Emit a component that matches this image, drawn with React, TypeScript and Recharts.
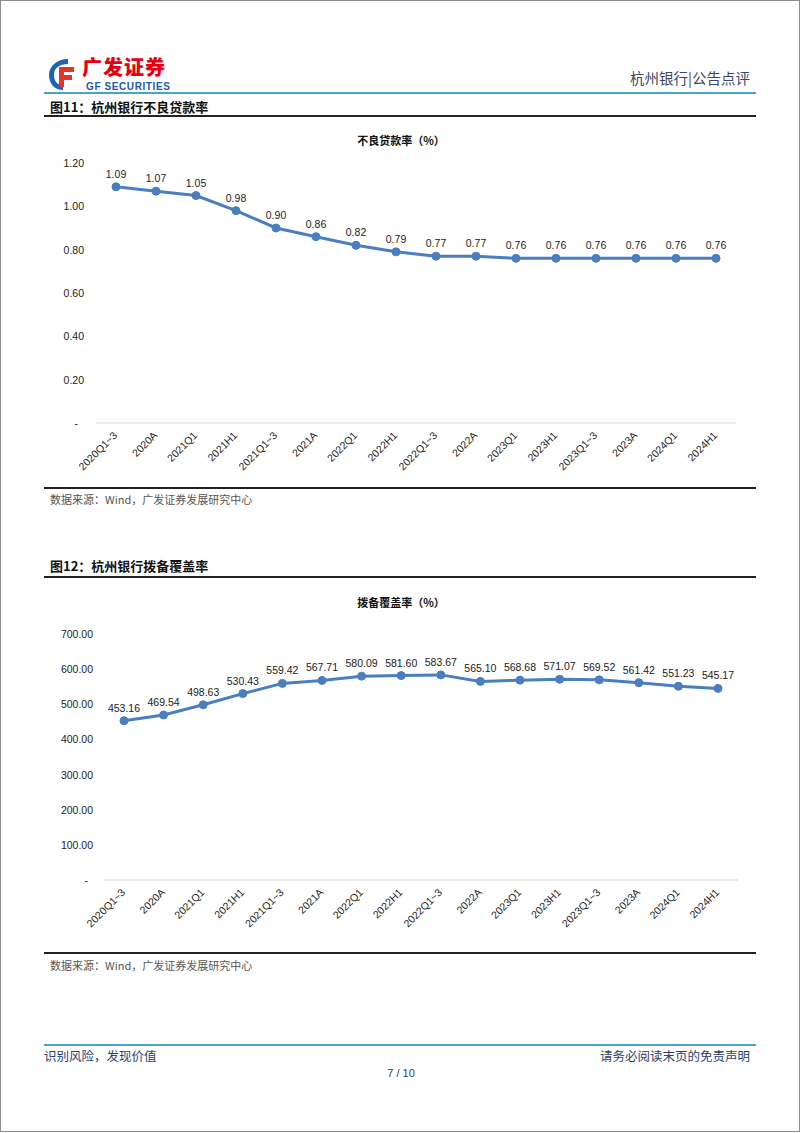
import React from "react";
import { LineChart, Line, XAxis, YAxis, LabelList } from "recharts";

const periods = [
  "2020Q1~3", "2020A", "2021Q1", "2021H1", "2021Q1~3", "2021A", "2022Q1", "2022H1",
  "2022Q1~3", "2022A", "2023Q1", "2023H1", "2023Q1~3", "2023A", "2024Q1", "2024H1",
];
const nplRatio = [1.09, 1.07, 1.05, 0.98, 0.9, 0.86, 0.82, 0.79, 0.77, 0.77, 0.76, 0.76, 0.76, 0.76, 0.76, 0.76];
const coverageRatio = [
  453.16, 469.54, 498.63, 530.43, 559.42, 567.71, 580.09, 581.6,
  583.67, 565.1, 568.68, 571.07, 569.52, 561.42, 551.23, 545.17,
];
const nplTicks = [0, 0.2, 0.4, 0.6, 0.8, 1.0, 1.2];
const coverageTicks = [0, 100, 200, 300, 400, 500, 600, 700];

const nplData = periods.map((p, i) => ({ name: p, value: nplRatio[i] }));
const coverageData = periods.map((p, i) => ({ name: p, value: coverageRatio[i] }));

const NUM_FONT = "'Liberation Sans', Arial, sans-serif";
const CJK_FONT = "'Noto Sans CJK SC', 'Noto Sans', sans-serif";
const LINE_COLOR = "#4a7ebf";

function makeYTick(rightX: number, dashX: number) {
  return (props: any) => {
    const { y, payload } = props;
    const v = Number(payload.value);
    return (
      <text
        x={v === 0 ? dashX : rightX}
        y={y}
        dy={4}
        textAnchor="end"
        fontSize={10.5}
        fontFamily={NUM_FONT}
        fill="#222"
      >
        {v === 0 ? "-" : v.toFixed(2)}
      </text>
    );
  };
}

function XTick(props: any) {
  const { x, y, payload } = props;
  return (
    <g transform={`translate(${x + 2},${y + 13})`}>
      <text
        x={0}
        y={0}
        textAnchor="end"
        transform="rotate(-45)"
        fontSize={10.5}
        fontFamily={NUM_FONT}
        fill="#222"
      >
        {payload.value}
      </text>
    </g>
  );
}

const abs = (left: number, top: number, extra: React.CSSProperties = {}): React.CSSProperties => ({
  position: "absolute",
  left,
  top,
  ...extra,
});

function HLine({ top, color, h, left = 44, width = 712 }: { top: number; color: string; h: number; left?: number; width?: number }) {
  return <div style={abs(left, top, { width, height: h, background: color })} />;
}

export default function App() {
  return (
    <div style={{ position: "absolute", left: 0, top: 0, width: 802, height: 1133, background: "#fff", overflow: "hidden" }}>
      <div style={abs(0, 0, { width: 798, height: 1130, border: "1px solid #8c8c8c" })} />

      {/* header */}
      <svg style={abs(47, 57)} width={28} height={34} viewBox="0 0 28 34">
        <path d="M21 2 C9 2 2 10 2 18 C2 27 8 33 16 33 L16 28 C10 28 7 24 7 18 C7 11 12 7 21 7 Z" fill="#1e64b4" />
        <path d="M12 10 H27 V15 H17 V18 H25 V23 H17 V30 H12 Z" fill="#e8322b" />
      </svg>
      <div style={abs(82, 56, { fontFamily: CJK_FONT, fontWeight: 900, fontSize: 20, color: "#e60012", lineHeight: "22px", letterSpacing: 1 })}>
        广发证券
      </div>
      <div style={abs(86, 82, { fontFamily: NUM_FONT, fontWeight: 700, fontSize: 10, color: "#1f5aa6", letterSpacing: 0.6, lineHeight: "10px" })}>
        GF SECURITIES
      </div>
      <div style={abs(560, 68, { width: 190, textAlign: "right", fontFamily: CJK_FONT, fontSize: 14.5, color: "#3a4668", lineHeight: "20px" })}>
        杭州银行|公告点评
      </div>
      <HLine top={92} color="#4aa3c9" h={2} />

      {/* figure 11 */}
      <div style={abs(50, 98, { fontFamily: CJK_FONT, fontWeight: 700, fontSize: 13, color: "#111", lineHeight: "18px" })}>
        图11：杭州银行不良贷款率
      </div>
      <HLine top={115} color="#222" h={1.5} />
      <div style={abs(0, 131, { width: 802, textAlign: "center", fontFamily: CJK_FONT, fontWeight: 700, fontSize: 11, color: "#111", lineHeight: "18px" })}>
        不良贷款率（%）
      </div>
      <div style={abs(0, 150)}>
        <LineChart width={802} height={323} data={nplData} margin={{ top: 13, right: 66, left: 0, bottom: 0 }}>
          <XAxis
            dataKey="name"
            interval={0}
            height={50}
            padding={{ left: 20, right: 20 }}
            tickLine={false}
            tickSize={0}
            tickMargin={0}
            axisLine={{ stroke: "#d9d9d9", strokeWidth: 1 }}
            tick={XTick}
          />
          <YAxis
            width={96}
            domain={[0, 1.2]}
            ticks={nplTicks}
            axisLine={false}
            tickLine={false}
            tick={makeYTick(84, 78)}
          />
          <Line
            dataKey="value"
            stroke={LINE_COLOR}
            strokeWidth={3}
            dot={{ r: 4, fill: LINE_COLOR, stroke: LINE_COLOR, strokeWidth: 1 }}
            isAnimationActive={false}
          >
            <LabelList
              dataKey="value"
              position="top"
              offset={9}
              formatter={(v: any) => Number(v).toFixed(2)}
              style={{ fontSize: 10.5, fontFamily: NUM_FONT, fill: "#222" }}
            />
          </Line>
        </LineChart>
      </div>
      <HLine top={487} color="#222" h={1.5} />
      <div style={abs(50, 491, { fontFamily: CJK_FONT, fontSize: 11, color: "#555", lineHeight: "16px" })}>
        数据来源：Wind，广发证券发展研究中心
      </div>

      {/* figure 12 */}
      <div style={abs(50, 557, { fontFamily: CJK_FONT, fontWeight: 700, fontSize: 13, color: "#111", lineHeight: "18px" })}>
        图12：杭州银行拨备覆盖率
      </div>
      <HLine top={576} color="#222" h={1.5} />
      <div style={abs(0, 593, { width: 802, textAlign: "center", fontFamily: CJK_FONT, fontWeight: 700, fontSize: 11, color: "#111", lineHeight: "18px" })}>
        拨备覆盖率（%）
      </div>
      <div style={abs(0, 620)}>
        <LineChart width={802} height={320} data={coverageData} margin={{ top: 14, right: 64, left: 0, bottom: 0 }}>
          <XAxis
            dataKey="name"
            interval={0}
            height={60}
            padding={{ left: 20, right: 20 }}
            tickLine={false}
            tickSize={0}
            tickMargin={0}
            axisLine={{ stroke: "#d9d9d9", strokeWidth: 1 }}
            tick={XTick}
          />
          <YAxis
            width={104}
            domain={[0, 700]}
            ticks={coverageTicks}
            axisLine={false}
            tickLine={false}
            tick={makeYTick(93, 88)}
          />
          <Line
            dataKey="value"
            stroke={LINE_COLOR}
            strokeWidth={3}
            dot={{ r: 4, fill: LINE_COLOR, stroke: LINE_COLOR, strokeWidth: 1 }}
            isAnimationActive={false}
          >
            <LabelList
              dataKey="value"
              position="top"
              offset={9}
              formatter={(v: any) => Number(v).toFixed(2)}
              style={{ fontSize: 10.5, fontFamily: NUM_FONT, fill: "#222" }}
            />
          </Line>
        </LineChart>
      </div>
      <HLine top={952} color="#222" h={1.5} />
      <div style={abs(50, 957, { fontFamily: CJK_FONT, fontSize: 11, color: "#555", lineHeight: "16px" })}>
        数据来源：Wind，广发证券发展研究中心
      </div>

      {/* footer */}
      <HLine top={1044} color="#4aa3c9" h={2} />
      <div style={abs(44, 1047, { fontFamily: CJK_FONT, fontSize: 12.5, color: "#2c3f6b", lineHeight: "18px" })}>
        识别风险，发现价值
      </div>
      <div style={abs(450, 1047, { width: 300, textAlign: "right", fontFamily: CJK_FONT, fontSize: 12.5, color: "#2c3f6b", lineHeight: "18px" })}>
        请务必阅读末页的免责声明
      </div>
      <div style={abs(0, 1066, { width: 802, textAlign: "center", fontFamily: NUM_FONT, fontSize: 11, color: "#2c3f6b", lineHeight: "14px" })}>
        7 / 10
      </div>
    </div>
  );
}
